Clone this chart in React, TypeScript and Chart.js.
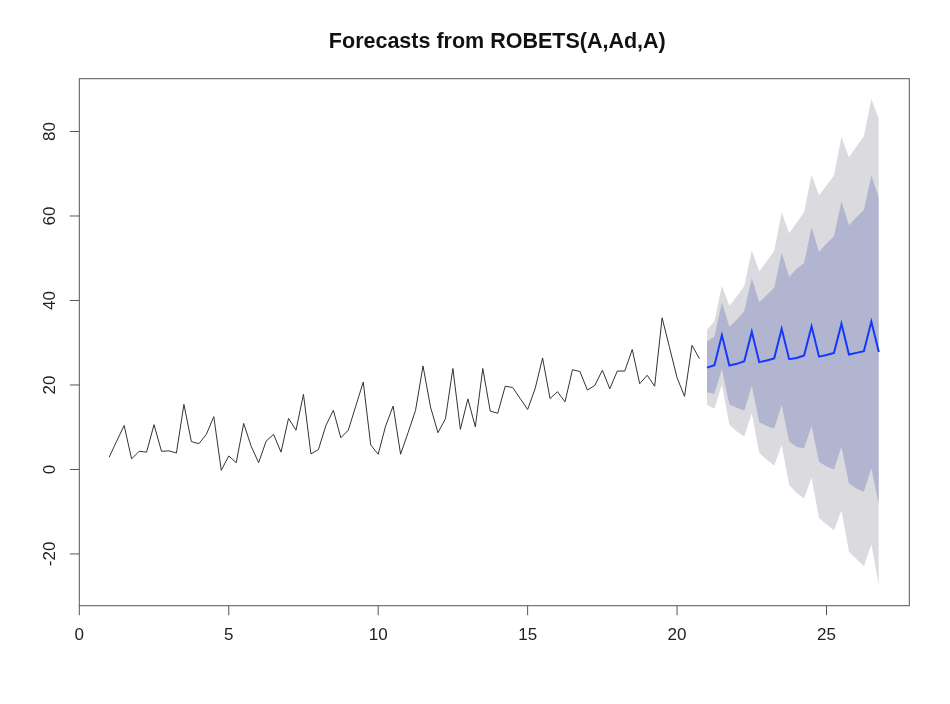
import React, { useEffect, useRef } from "react";
import { Chart, registerables } from "chart.js";

Chart.register(...registerables);

const chartTitle = "Forecasts from ROBETS(A,Ad,A)";
const seriesStart = 1;
const seriesFrequency = 4;
const forecastStart = 21;

const history = [
  2.9, 6.7, 10.4, 2.5, 4.3, 4.1, 10.6, 4.3, 4.4, 3.9,
  15.4, 6.6, 6.1, 8.3, 12.5, -0.2, 3.2, 1.6, 10.9, 5.5,
  1.6, 6.7, 8.3, 4.1, 12.1, 9.3, 17.8, 3.7, 4.7, 10.4,
  14.0, 7.5, 9.3, 15.0, 20.7, 5.8, 3.6, 10.3, 15.0, 3.6,
  8.7, 14.0, 24.5, 14.8, 8.7, 12.0, 23.9, 9.5, 16.7, 10.1,
  23.9, 13.8, 13.3, 19.7, 19.4, 16.8, 14.2, 19.1, 26.4, 16.8,
  18.4, 16.0, 23.6, 23.2, 18.8, 19.9, 23.5, 19.1, 23.3, 23.3,
  28.4, 20.3, 22.3, 19.7, 35.9, 28.8, 21.7, 17.3, 29.4, 26.2,
];

const forecastMean = [
  24.1, 24.7, 31.8, 24.6, 25.0, 25.6, 32.6, 25.4, 25.8, 26.3, 33.3, 26.1,
  26.4, 27.0, 33.9, 26.7, 27.1, 27.6, 34.5, 27.2, 27.6, 28.0, 35.0, 27.8,
];
const upper80 = [
  30.3, 31.5, 39.6, 33.8, 35.5, 37.5, 45.3, 39.6, 41.3, 43.0, 51.3, 45.6,
  47.5, 48.9, 57.4, 51.5, 53.5, 55.2, 63.5, 57.8, 59.7, 61.4, 69.6, 64.3,
];
const lower80 = [
  18.2, 17.9, 23.8, 15.4, 14.6, 13.9, 19.8, 11.2, 10.3, 9.7, 15.2, 6.6,
  5.3, 5.0, 10.3, 1.8, 0.7, 0.0, 5.4, -3.3, -4.5, -5.3, 0.3, -8.3,
];
const upper95 = [
  33.1, 35.1, 43.5, 38.7, 41.0, 43.4, 51.9, 46.9, 49.3, 51.7, 60.8, 55.9,
  58.4, 60.9, 69.7, 64.9, 67.2, 69.6, 78.7, 73.9, 76.4, 78.9, 87.7, 83.0,
];
const lower95 = [
  15.3, 14.4, 20.1, 10.6, 9.0, 7.8, 13.3, 3.9, 2.3, 0.9, 5.8, -3.7,
  -5.6, -6.9, -1.9, -11.5, -13.0, -14.4, -9.7, -19.5, -21.2, -22.9, -17.7, -27.4,
];

const xTicks = [0, 5, 10, 15, 20, 25];
const yTicks = [-20, 0, 20, 40, 60, 80];
const xRange = [0, 27.77];
const yRange = [-32.25, 92.5];

const toPoints = (values: number[], start: number) =>
  values.map((v, i) => ({ x: start + i / seriesFrequency, y: v }));

const FONT = "'Liberation Sans', Arial, sans-serif";

const axesPlugin = {
  id: "rAxes",
  afterDraw(chart: any) {
    const ctx = chart.ctx as CanvasRenderingContext2D;
    const { left, right, top, bottom } = chart.chartArea;
    const xs = chart.scales.x;
    const ys = chart.scales.y;
    ctx.save();
    ctx.strokeStyle = "#555555";
    ctx.lineWidth = 1;
    ctx.strokeRect(left, top, right - left, bottom - top);

    ctx.fillStyle = "#222222";
    ctx.font = `17px ${FONT}`;
    ctx.textAlign = "center";
    ctx.textBaseline = "middle";
    ctx.beginPath();
    for (const t of xTicks) {
      const px = xs.getPixelForValue(t);
      ctx.moveTo(px, bottom);
      ctx.lineTo(px, bottom + 9.5);
    }
    for (const t of yTicks) {
      const py = ys.getPixelForValue(t);
      ctx.moveTo(left, py);
      ctx.lineTo(left - 9.5, py);
    }
    ctx.stroke();
    for (const t of xTicks) {
      const px = xs.getPixelForValue(t);
      ctx.fillText(String(t), px, 635);
    }
    for (const t of yTicks) {
      const py = ys.getPixelForValue(t);
      ctx.save();
      ctx.translate(50, py);
      ctx.rotate(-Math.PI / 2);
      ctx.fillText(String(t), 0, 0);
      ctx.restore();
    }

    ctx.font = `bold 21.5px ${FONT}`;
    ctx.fillStyle = "#111111";
    ctx.textBaseline = "alphabetic";
    ctx.fillText(chartTitle, (left + right) / 2 + 3, 47.5);
    ctx.restore();
  },
};

export default function App() {
  const canvasRef = useRef<HTMLCanvasElement | null>(null);

  useEffect(() => {
    if (!canvasRef.current) return;
    const band = (data: number[], color: string, fill: any) => ({
      data: toPoints(data, forecastStart),
      borderWidth: 0,
      borderColor: "rgba(0,0,0,0)",
      backgroundColor: color,
      pointRadius: 0,
      fill,
      tension: 0,
    });
    const chart = new Chart(canvasRef.current, {
      type: "line",
      data: {
        datasets: [
          {
            data: toPoints(history, seriesStart),
            borderColor: "#333333",
            borderWidth: 1,
            pointRadius: 0,
            fill: false,
            tension: 0,
          },
          {
            data: toPoints(forecastMean, forecastStart),
            borderColor: "#1438FF",
            borderWidth: 2,
            pointRadius: 0,
            fill: false,
            tension: 0,
          },
          band(upper80, "#B2B5CF", "+1"),
          band(lower80, "#B2B5CF", false),
          band(upper95, "#DBDBDF", "+1"),
          band(lower95, "#DBDBDF", false),
        ] as any,
      },
      options: {
        animation: false,
        responsive: true,
        maintainAspectRatio: false,
        layout: { padding: { top: 78.7, right: 40.7, left: 0, bottom: 0 } },
        plugins: {
          legend: { display: false },
          tooltip: { enabled: false },
          title: { display: false },
        },
        scales: {
          x: {
            type: "linear",
            min: xRange[0],
            max: xRange[1],
            ticks: { display: false },
            grid: { display: false },
            border: { display: false },
            afterFit: (s: any) => {
              s.height = 704 - 605.7;
            },
          },
          y: {
            type: "linear",
            min: yRange[0],
            max: yRange[1],
            ticks: { display: false },
            grid: { display: false },
            border: { display: false },
            afterFit: (s: any) => {
              s.width = 79.3;
            },
          },
        },
      },
      plugins: [axesPlugin],
    });
    return () => chart.destroy();
  }, []);

  return (
    <div style={{ position: "absolute", left: 0, top: 0, width: 950, height: 704, background: "#ffffff" }}>
      <canvas ref={canvasRef} />
    </div>
  );
}
